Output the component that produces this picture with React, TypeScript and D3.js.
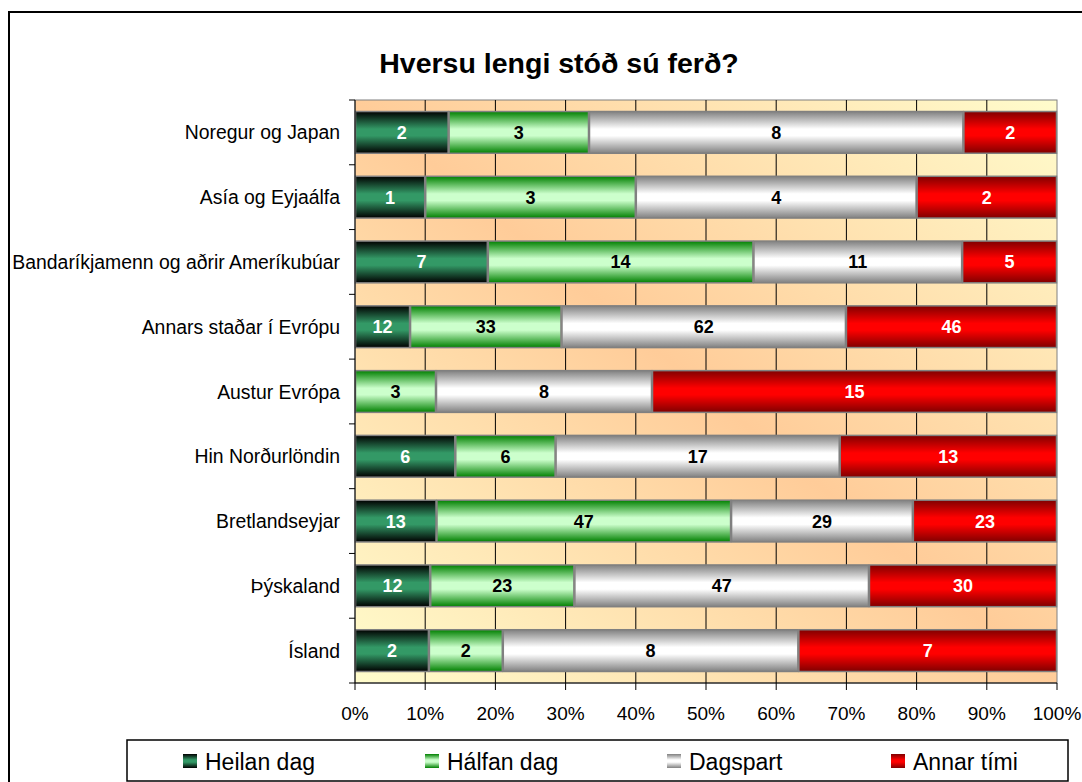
import * as d3 from 'd3'

const CATEGORIES = [
  'Noregur og Japan',
  'Asía og Eyjaálfa',
  'Bandaríkjamenn og aðrir Ameríkubúar',
  'Annars staðar í Evrópu',
  'Austur Evrópa',
  'Hin Norðurlöndin',
  'Bretlandseyjar',
  'Þýskaland',
  'Ísland',
]
const SERIES_NAMES = ['Heilan dag', 'Hálfan dag', 'Dagspart', 'Annar tími']
const HEILAN = [2, 1, 7, 12, 0, 6, 13, 12, 2]
const HALFAN = [3, 3, 14, 33, 3, 6, 47, 23, 2]
const DAGSPART = [8, 4, 11, 62, 8, 17, 29, 47, 8]
const ANNAR = [2, 2, 5, 46, 15, 13, 23, 30, 7]
const X_TICKS = [0, 0.1, 0.2, 0.3, 0.4, 0.5, 0.6, 0.7, 0.8, 0.9, 1]

const SERIES = [HEILAN, HALFAN, DAGSPART, ANNAR]
const EDGE = ['#000000', '#008000', '#808080', '#800000']
const CENTER = ['#339966', '#ccffcc', '#ffffff', '#ff0000']
const LABEL_FILL = ['#ffffff', '#000000', '#000000', '#ffffff']

const FONT = '"Liberation Sans", Arial, sans-serif'
const LEFT = 355
const RIGHT = 1057
const TOP = 100
const BOTTOM = 683

export default function App() {
  const x = d3.scaleLinear([0, 1], [LEFT, RIGHT])
  const y = d3.scaleBand<string>(CATEGORIES, [TOP, BOTTOM]).paddingInner(0.34).paddingOuter(0.17)
  const step = y.step()

  const stacked = d3
    .stack<number>()
    .keys(SERIES_NAMES.map((_, i) => String(i)))
    .value((row, key) => {
      const total = SERIES.reduce((s, arr) => s + arr[row], 0)
      return SERIES[+key][row] / total
    })(CATEGORIES.map((_, i) => i))

  const legendX = [183, 425, 667, 891]

  return (
    <svg
      width={1082}
      height={782}
      style={{ position: 'absolute', left: 0, top: 0 }}
      fontFamily={FONT}
    >
      <defs>
        <linearGradient id="bg" x1="0" y1="1" x2="1" y2="0">
          <stop offset="0" stopColor="#fffccc" />
          <stop offset="0.5" stopColor="#ffcc99" />
          <stop offset="1" stopColor="#fffccc" />
        </linearGradient>
        {SERIES_NAMES.map((_, i) => (
          <linearGradient key={i} id={`g${i}`} x1="0" y1="0" x2="0" y2="1">
            <stop offset="0" stopColor={EDGE[i]} />
            <stop offset="0.42" stopColor={CENTER[i]} />
            <stop offset="0.58" stopColor={CENTER[i]} />
            <stop offset="1" stopColor={EDGE[i]} />
          </linearGradient>
        ))}
      </defs>
      <rect x={0} y={0} width={1082} height={782} fill="#fff" />
      <rect x={9} y={12} width={1100} height={800} fill="none" stroke="#000" strokeWidth={2} />

      <text x={559} y={73} textAnchor="middle" fontSize={28.5} fontWeight="bold">
        Hversu lengi stóð sú ferð?
      </text>

      {/* plot area */}
      <rect x={LEFT} y={TOP} width={RIGHT - LEFT} height={BOTTOM - TOP} fill="url(#bg)" stroke="#808080" />
      {X_TICKS.slice(1, -1).map((t) => (
        <line key={t} x1={x(t)} x2={x(t)} y1={TOP} y2={BOTTOM} stroke="#000" />
      ))}

      {stacked.map((layer, si) =>
        layer.map((d, ci) => {
          const val = SERIES[si][ci]
          if (!val) return null
          const x0 = x(d[0])
          const x1 = x(d[1])
          const yy = y(CATEGORIES[ci])!
          return (
            <g key={`${si}-${ci}`}>
              <rect
                x={x0 + 0.5}
                y={yy + 0.5}
                width={x1 - x0 - 1}
                height={y.bandwidth() - 1}
                fill={`url(#g${si})`}
                stroke="#808080"
                strokeWidth={1.5}
              />
              <text
                x={(x0 + x1) / 2}
                y={yy + y.bandwidth() / 2 + 6.5}
                textAnchor="middle"
                fontSize={18}
                fontWeight="bold"
                fill={LABEL_FILL[si]}
              >
                {val}
              </text>
            </g>
          )
        }),
      )}

      {/* axes */}
      <line x1={LEFT} x2={LEFT} y1={TOP} y2={BOTTOM} stroke="#000" />
      <line x1={LEFT} x2={RIGHT} y1={BOTTOM} y2={BOTTOM} stroke="#000" />
      {d3.range(CATEGORIES.length + 1).map((i) => (
        <line key={i} x1={LEFT - 6} x2={LEFT} y1={TOP + i * step} y2={TOP + i * step} stroke="#000" />
      ))}
      {X_TICKS.map((t) => (
        <g key={t}>
          <line x1={x(t)} x2={x(t)} y1={BOTTOM} y2={BOTTOM + 7} stroke="#000" />
          <text x={x(t)} y={BOTTOM + 37} textAnchor="middle" fontSize={19}>
            {d3.format('.0%')(t)}
          </text>
        </g>
      ))}
      {CATEGORIES.map((c) => (
        <text key={c} x={340} y={y(c)! + y.bandwidth() / 2 + 7} textAnchor="end" fontSize={19.4}>
          {c}
        </text>
      ))}

      {/* legend */}
      <rect x={127} y={740} width={941} height={41} fill="#fff" stroke="#000" strokeWidth={1.5} />
      {SERIES_NAMES.map((name, i) => (
        <g key={name}>
          <rect x={legendX[i]} y={754} width={14} height={14} fill={`url(#g${i})`} />
          <text x={legendX[i] + 22} y={770} fontSize={23}>
            {name}
          </text>
        </g>
      ))}
    </svg>
  )
}
